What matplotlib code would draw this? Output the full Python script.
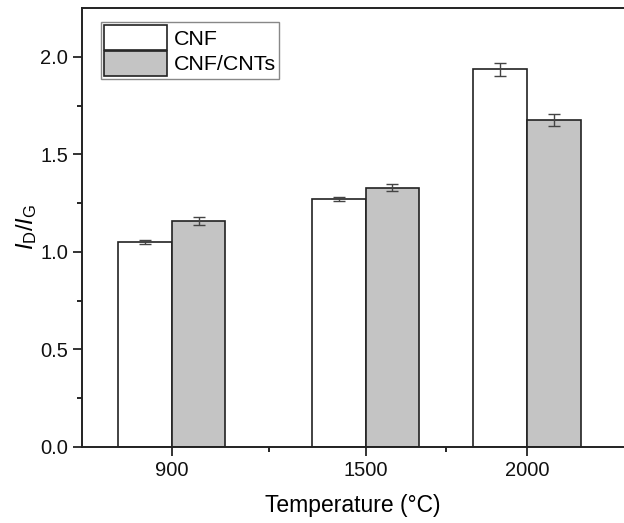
import matplotlib
matplotlib.use("Agg")
import matplotlib.pyplot as plt
import numpy as np

plt.rcParams['font.family'] = ['Liberation Sans', 'DejaVu Sans']
plt.rcParams['mathtext.fontset'] = 'custom'
plt.rcParams['mathtext.rm'] = 'Liberation Sans'
plt.rcParams['mathtext.it'] = 'Liberation Sans:italic'

temperatures = [900, 1500, 2000]
cnf = [1.05, 1.27, 1.935]
cnf_err = [0.01, 0.011, 0.031]
cnf_cnts = [1.16, 1.33, 1.677]
cnf_cnts_err = [0.02, 0.02, 0.03]
series_labels = ["CNF", "CNF/CNTs"]

W, H = 624, 523
fig = plt.figure(figsize=(W / 100, H / 100), dpi=100)
ax = fig.add_axes([82 / W, (H - 447) / H, (624 - 82) / W, (447 - 8) / H])

bw = 166
t = np.array(temperatures, dtype=float)
ekw = dict(ecolor='#444444', elinewidth=1.0, capsize=4, capthick=1.0)
ax.bar(t - bw / 2, cnf, width=bw, color='white', edgecolor='#222222', linewidth=1.2,
       yerr=cnf_err, error_kw=ekw, label=series_labels[0], zorder=2)
ax.bar(t + bw / 2, cnf_cnts, width=bw, color='#c4c4c4', edgecolor='#222222', linewidth=1.2,
       yerr=cnf_cnts_err, error_kw=ekw, label=series_labels[1], zorder=2)

ax.set_xlim(622, 2300)
ax.set_ylim(0, 2.25)
ax.set_xticks(temperatures)
ax.set_xticks([1200, 1750], minor=True)
ax.set_yticks([0.0, 0.5, 1.0, 1.5, 2.0])
ax.set_yticks([0.25, 0.75, 1.25, 1.75], minor=True)
ax.set_yticklabels(['0.0', '0.5', '1.0', '1.5', '2.0'])
ax.tick_params(axis='both', which='major', direction='out', length=6.5, width=1.2,
               labelsize=14.5, colors='#111111', pad=3.5)
ax.tick_params(axis='both', which='minor', direction='out', length=3.5, width=1.2)

for s in ['left', 'bottom', 'top']:
    ax.spines[s].set_linewidth(1.4)
    ax.spines[s].set_color('#222222')
ax.spines['right'].set_visible(False)

ax.set_xlabel('Temperature (\u00b0C)', fontsize=16.5, labelpad=10)
ax.set_ylabel(r'$\mathit{I}_\mathrm{D}/\mathit{I}_\mathrm{G}$', fontsize=17, labelpad=1)

leg = ax.legend(loc='upper left', bbox_to_anchor=(0.035, 0.968), fontsize=15.4,
                frameon=True, fancybox=False, edgecolor='#888888', framealpha=1,
                handlelength=2.95, handleheight=1.4, labelspacing=0.05,
                borderpad=0.15, borderaxespad=0, handletextpad=0.3)
leg.get_frame().set_linewidth(1.0)

fig.savefig('out.png', dpi=100)
